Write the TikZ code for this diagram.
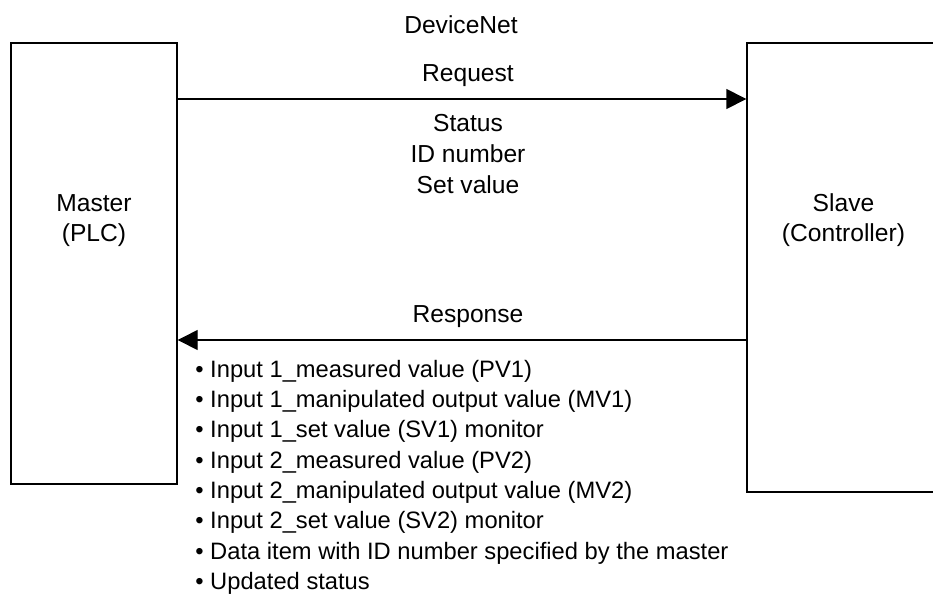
\documentclass[tikz,border=0pt]{standalone}
\usepackage{fontspec}
\setmainfont{Liberation Sans}
\usetikzlibrary{arrows.meta,positioning}
\tikzset{unit/.style={draw,line width=0.8pt,inner sep=0pt},
  lbl/.style={font=\fontsize{14pt}{17pt}\selectfont,anchor=base,inner sep=0pt},
  item/.style={font=\fontsize{13.5pt}{16pt}\selectfont,anchor=base west,inner sep=0pt},
  msg/.style={line width=0.8pt,-{Triangle[length=0.4cm,width=0.4cm]}}}

\begin{document}
\begin{tikzpicture}
    \useasboundingbox (0,0) rectangle (18.66,12.08);

    \node[unit,minimum width=3.32cm,minimum height=8.82cm] (mbox) at (1.88,6.81) {};
    \node[unit,minimum width=3.86cm,minimum height=8.98cm] (sbox) at (16.87,6.73) {};

    \node[lbl] (mlbl) at (1.88,7.86) {Master};
    \node[lbl] (plc) at (1.88,7.26) {(PLC)};
    \node[lbl] (slbl) at (16.87,7.86) {Slave};
    \node[lbl] (ctrl) at (16.87,7.26) {(Controller)};

    \node[lbl] (net) at (9.22,11.42) {DeviceNet};
    \node[lbl] (req) at (9.36,10.46) {Request};
    \node[lbl] (stat) at (9.36,9.46) {Status};
    \node[lbl] (idno) at (9.36,8.84) {ID number};
    \node[lbl] (setv) at (9.36,8.22) {Set value};
    \node[lbl] (res) at (9.36,5.64) {Response};

    \coordinate (reqy) at (0,10.10);
    \coordinate (resy) at (0,5.28);
    \draw [msg] (mbox.east |- reqy) to (sbox.west |- reqy);
    \draw [msg] (sbox.west |- resy) to (mbox.east |- resy);

    \node[item] (i1) at (3.9,4.54) {\textbullet\ Input 1\_measured value (PV1)};
    \node[item] (i2) at (3.9,3.94) {\textbullet\ Input 1\_manipulated output value (MV1)};
    \node[item] (i3) at (3.9,3.34) {\textbullet\ Input 1\_set value (SV1) monitor};
    \node[item] (i4) at (3.9,2.72) {\textbullet\ Input 2\_measured value (PV2)};
    \node[item] (i5) at (3.9,2.12) {\textbullet\ Input 2\_manipulated output value (MV2)};
    \node[item] (i6) at (3.9,1.52) {\textbullet\ Input 2\_set value (SV2) monitor};
    \node[item] (i7) at (3.9,0.90) {\textbullet\ Data item with ID number specified by the master};
    \node[item] (i8) at (3.9,0.30) {\textbullet\ Updated status};
\end{tikzpicture}
\end{document}
